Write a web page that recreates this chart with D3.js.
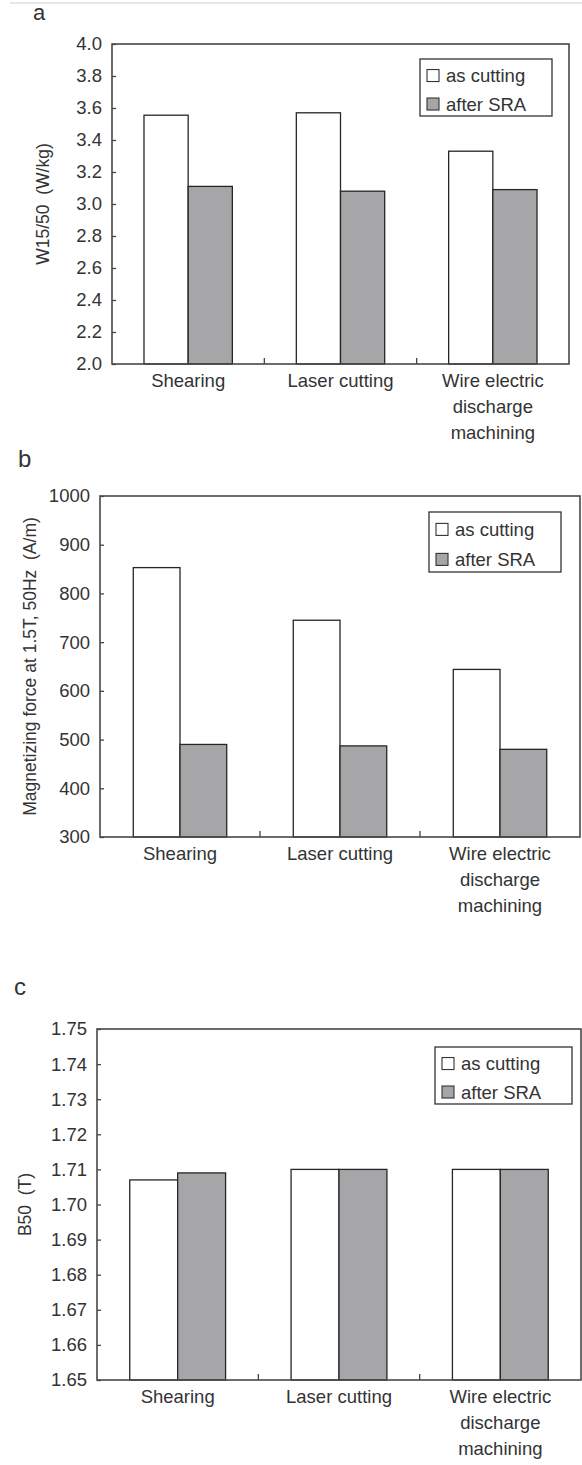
<!DOCTYPE html>
<html>
<head>
<meta charset="utf-8">
<script src="https://cdn.jsdelivr.net/npm/d3@7"></script>
<style>
  html, body { margin: 0; padding: 0; background: #fff; }
  svg { display: block; }
  text { font-family: "Liberation Sans", Arial, sans-serif; fill: #333; }
</style>
</head>
<body>
<script>
// ---- data ----
const categories = ["Shearing", "Laser cutting", "Wire electric discharge machining"];
const categoryLines = [["Shearing"], ["Laser cutting"], ["Wire electric", "discharge", "machining"]];
const seriesNames = ["as cutting", "after SRA"];

const lossAsCutting = [3.555, 3.57, 3.33];
const lossAfterSRA = [3.11, 3.08, 3.09];
const lossTicks = [2.0, 2.2, 2.4, 2.6, 2.8, 3.0, 3.2, 3.4, 3.6, 3.8, 4.0];

const forceAsCutting = [853, 745, 644];
const forceAfterSRA = [490, 487, 480];
const forceTicks = [300, 400, 500, 600, 700, 800, 900, 1000];

const b50AsCutting = [1.707, 1.710, 1.710];
const b50AfterSRA = [1.709, 1.710, 1.710];
const b50Ticks = [1.65, 1.66, 1.67, 1.68, 1.69, 1.70, 1.71, 1.72, 1.73, 1.74, 1.75];

const panelLetters = ["a", "b", "c"];
const yTitles = ["W15/50  (W/kg)", "Magnetizing force at 1.5T, 50Hz  (A/m)", "B50  (T)"];

// ---- style / layout ----
const colors = ["#ffffff", "#a6a6a8"];
const FONT = 18.5;

const svg = d3.select("body").append("svg").attr("width", 582).attr("height", 1465);

// faint scan border at top
svg.append("line").attr("x1", 10).attr("x2", 582).attr("y1", 3).attr("y2", 3)
  .attr("stroke", "#e6e6e6").attr("stroke-width", 2);

const panels = [
  { letter: panelLetters[0], title: yTitles[0], values: [lossAsCutting, lossAfterSRA], ticks: lossTicks, fmt: ".1f",
    left: 112, right: 569, top: 44, bottom: 364, titleX: 43, letterX: 33, letterY: 20, letterSize: 22,
    legend: { x: 420, y: 59, w: 132, h: 57 }, barFrac: 0.29 },
  { letter: panelLetters[1], title: yTitles[1], values: [forceAsCutting, forceAfterSRA], ticks: forceTicks, fmt: "d",
    left: 100, right: 580, top: 496, bottom: 837, titleX: 30, letterX: 18, letterY: 467, letterSize: 24,
    legend: { x: 429, y: 512, w: 132, h: 60 }, barFrac: 0.292 },
  { letter: panelLetters[2], title: yTitles[2], values: [b50AsCutting, b50AfterSRA], ticks: b50Ticks, fmt: ".2f",
    left: 97, right: 581, top: 1029, bottom: 1380, titleX: 25, letterX: 14, letterY: 995, letterSize: 24,
    legend: { x: 435, y: 1047, w: 137, h: 57 }, barFrac: 0.297 }
];

function drawPanel(p) {
  const g = svg.append("g");
  const x = d3.scaleBand().domain(categories).range([p.left, p.right]);
  const y = d3.scaleLinear().domain([p.ticks[0], p.ticks[p.ticks.length - 1]]).range([p.bottom, p.top]);
  const bw = x.bandwidth() * p.barFrac;

  // bars
  p.values.forEach((vals, s) => {
    g.append("g").selectAll("rect")
      .data(categories.map((c, i) => ({ c, v: vals[i] })))
      .join("rect")
      .attr("x", d => x(d.c) + x.bandwidth() / 2 - bw + s * bw)
      .attr("y", d => y(d.v))
      .attr("width", bw)
      .attr("height", d => y(p.ticks[0]) - y(d.v))
      .attr("fill", colors[s])
      .attr("stroke", "#262626")
      .attr("stroke-width", 1.3);
  });

  // y axis
  const ax = g.append("g").attr("transform", `translate(${p.left},0)`)
    .call(d3.axisLeft(y).tickValues(p.ticks).tickFormat(d3.format(p.fmt))
      .tickSizeInner(-4).tickSizeOuter(0).tickPadding(10));
  ax.select(".domain").remove();
  ax.selectAll(".tick line").attr("stroke", "#444").attr("stroke-width", 1.3);
  ax.selectAll(".tick text").attr("font-size", FONT).attr("fill", "#333")
    .style("font-family", "'Liberation Sans', Arial, sans-serif");

  // frame
  g.append("rect").attr("x", p.left).attr("y", p.top)
    .attr("width", p.right - p.left).attr("height", p.bottom - p.top)
    .attr("fill", "none").attr("stroke", "#484848").attr("stroke-width", 1.6);

  // category dividers on x axis
  g.append("g").selectAll("line").data(categories.slice(1)).join("line")
    .attr("x1", d => x(d)).attr("x2", d => x(d))
    .attr("y1", p.bottom).attr("y2", p.bottom - 6)
    .attr("stroke", "#444").attr("stroke-width", 1.3);

  // category labels
  categories.forEach((c, i) => {
    const t = g.append("text").attr("text-anchor", "middle").attr("font-size", FONT);
    categoryLines[i].forEach((line, k) => {
      t.append("tspan").attr("x", x(c) + x.bandwidth() / 2)
        .attr("y", p.bottom + 23 + k * 26).text(line);
    });
  });

  // y title
  g.append("text")
    .attr("transform", `translate(${p.titleX},${(p.top + p.bottom) / 2}) rotate(-90)`)
    .attr("text-anchor", "middle").attr("dy", "0.35em")
    .attr("font-size", 17.5).style("white-space", "pre")
    .text(p.title);

  // panel letter
  g.append("text").attr("x", p.letterX).attr("y", p.letterY)
    .attr("font-size", p.letterSize).text(p.letter);

  // legend
  const L = p.legend;
  const lg = g.append("g");
  lg.append("rect").attr("x", L.x).attr("y", L.y).attr("width", L.w).attr("height", L.h)
    .attr("fill", "#fff").attr("stroke", "#333").attr("stroke-width", 1.3);
  seriesNames.forEach((name, s) => {
    const cy = L.y + L.h * (s === 0 ? 0.29 : 0.79);
    lg.append("rect").attr("x", L.x + 7).attr("y", cy - 6).attr("width", 12).attr("height", 12)
      .attr("fill", colors[s]).attr("stroke", "#333").attr("stroke-width", 1.1);
    lg.append("text").attr("x", L.x + 26).attr("y", cy).attr("dy", "0.35em")
      .attr("font-size", FONT).text(name);
  });
}

panels.forEach(drawPanel);
</script>
</body>
</html>
